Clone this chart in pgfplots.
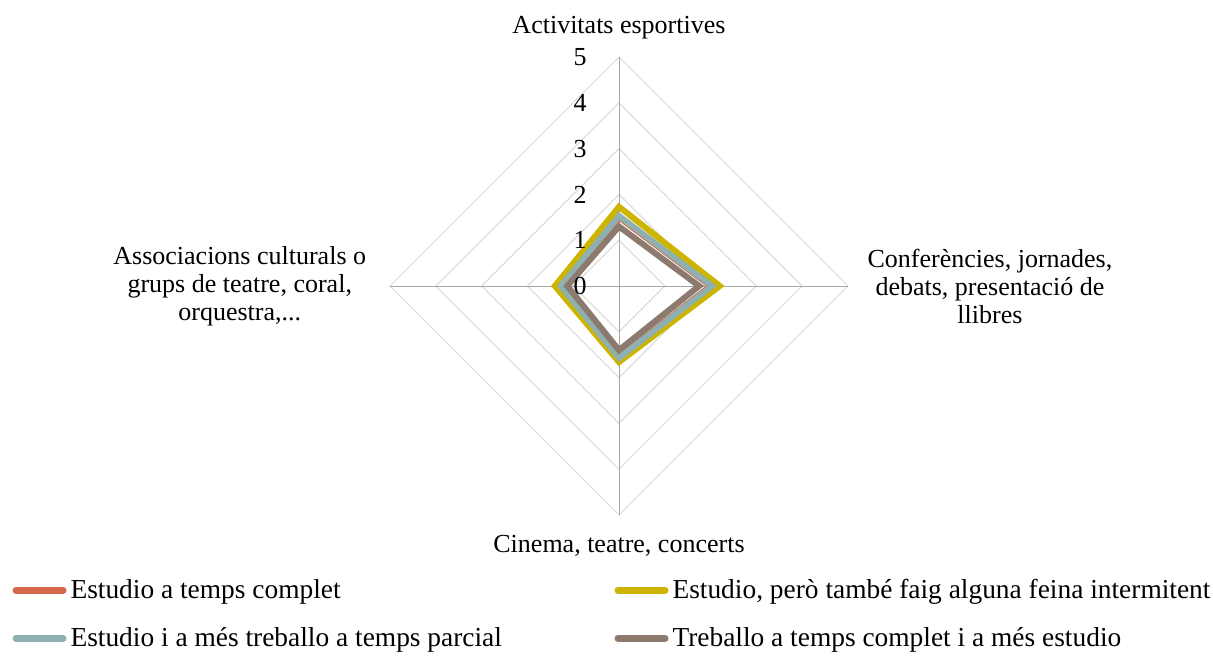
\documentclass[border=0pt]{standalone}
\usepackage{fontspec}
\setmainfont{Liberation Serif}
\usepackage{pgfplots}
\pgfplotsset{compat=1.18}

\definecolor{sOrange}{HTML}{D4674A}
\definecolor{sYellow}{HTML}{CCB400}
\definecolor{sTeal}{HTML}{8FB0B0}
\definecolor{sBrown}{HTML}{8C7A6E}
\definecolor{gridc}{HTML}{D9D9D9}
\definecolor{spokec}{HTML}{A6A6A6}

\newcommand{\lblfont}{\fontsize{13}{14}\selectfont}
\newcommand{\legfont}{\fontsize{13.7}{15}\selectfont}
\newcommand{\lcell}[1]{\makebox[270pt][l]{#1}}

\begin{document}
\begin{tikzpicture}
\useasboundingbox (-309.5pt,-186.5pt) rectangle (297pt,143pt);
\begin{axis}[
    at={(0pt,0pt)}, anchor=origin,
    x=22.9pt, y=22.9pt,
    xmin=-5, xmax=5, ymin=-5, ymax=5,
    hide axis, clip=false,
    legend columns=2,
    legend cell align=left,
    legend image code/.code={\draw[#1, line width=3.5pt, line cap=round] (1.75pt,0pt) -- (25.25pt,0pt);},
    legend style={draw=none, fill=none, inner sep=0pt,
        at={(axis cs:-13.25,-6.3)}, anchor=north west,
        font=\legfont, row sep=9pt,
        nodes={inner xsep=2pt}},
]
% grid
\addplot[gridc, line width=0.5pt, forget plot] coordinates {(0,1)(1,0)(0,-1)(-1,0)(0,1)};
\addplot[gridc, line width=0.5pt, forget plot] coordinates {(0,2)(2,0)(0,-2)(-2,0)(0,2)};
\addplot[gridc, line width=0.5pt, forget plot] coordinates {(0,3)(3,0)(0,-3)(-3,0)(0,3)};
\addplot[gridc, line width=0.5pt, forget plot] coordinates {(0,4)(4,0)(0,-4)(-4,0)(0,4)};
\addplot[gridc, line width=0.5pt, forget plot] coordinates {(0,5)(5,0)(0,-5)(-5,0)(0,5)};
\addplot[spokec, line width=0.5pt, forget plot] coordinates {(0,-5)(0,5)};
\addplot[spokec, line width=0.5pt, forget plot] coordinates {(-5,0)(5,0)};

% series: top, right, bottom, left
\addplot[sOrange, line width=3pt] coordinates {(0,1.50)(2.00,0)(0,-1.55)(-1.25,0)} -- cycle;
\addlegendentry{\lcell{Estudio a temps complet}}
\addplot[sYellow, line width=3pt] coordinates {(0,1.73)(2.20,0)(0,-1.66)(-1.40,0)} -- cycle;
\addlegendentry{Estudio, però també faig alguna feina intermitent}
\addplot[sTeal, line width=3pt] coordinates {(0,1.53)(2.03,0)(0,-1.57)(-1.27,0)} -- cycle;
\addlegendentry{\lcell{Estudio i a més treballo a temps parcial}}
\addplot[sBrown, line width=3pt] coordinates {(0,1.30)(1.75,0)(0,-1.40)(-1.13,0)} -- cycle;
\addlegendentry{Treballo a temps complet i a més estudio}

% radial tick labels
\pgfplotsinvokeforeach{0,...,5}{
  \node[font=\lblfont] at (axis cs:-0.85,#1) {#1};
}
% category labels
\node[font=\lblfont] at (axis cs:0,5.65) {Activitats esportives};
\node[font=\lblfont, align=center] at (axis cs:8.10,0) {Conferències, jornades,\\debats, presentació de\\llibres};
\node[font=\lblfont] at (axis cs:0,-5.68) {Cinema, teatre, concerts};
\node[font=\lblfont, align=center] at (axis cs:-8.28,0) {Associacions culturals o\\grups de teatre, coral,\\orquestra,...};
\end{axis}
\end{tikzpicture}
\end{document}
